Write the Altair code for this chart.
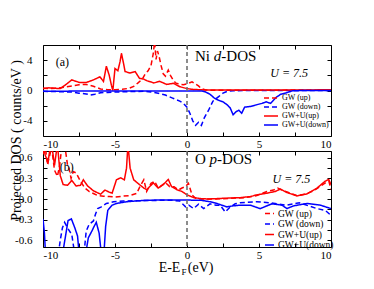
import altair as alt
import pandas as pd

SERIES = ["GW (up)", "GW (down)", "GW+U(up)", "GW+U(down)"]
COLORS = ["#ff0000", "#0000ff", "#ff0000", "#0000ff"]
DASHES = [[5, 3], [5, 3], [1, 0], [1, 0]]

# ---------------- Panel (a): Ni d-DOS ----------------
ni_gw_up_x = [-10, -9.5, -9, -8.5, -8, -7.5, -7, -6.5, -6, -5.5, -5, -4.5, -4, -3.7, -3.4, -3.1,
              -2.9, -2.7, -2.5, -2.35, -2.25, -2.15, -2.05, -1.95, -1.8, -1.65, -1.5, -1.3, -1.15,
              -1.0, -0.8, -0.5, -0.25, 0.1, 0.35, 0.6, 0.8, 1.0, 1.3, 1.6, 2, 3, 4, 5, 6, 7, 8, 9, 10]
ni_gw_up_y = [0.3, 0.25, 0.3, 0.45, 0.6, 0.75, 0.8, 0.55, 0.2, 0.1, 0.1, 0.15, 0.3, 0.55, 1.0, 1.5,
              2.2, 2.6, 3.3, 4.8, 6.4, 4.1, 5.2, 4.6, 3.3, 2.2, 1.9, 2.7, 2.0,
              1.5, 1.0, 0.8, 0.75, 0.95, 1.15, 0.85, 0.6, 0.25, 0.08, 0.03, 0.02, 0.02, 0.02, 0.02,
              0.03, 0.05, 0.05, 0.08, 0.1]

ni_gw_dn_x = [-10, -9, -8, -7.5, -7, -6.7, -6.4, -6, -5.5, -5, -4, -3, -2.5, -2, -1.5, -1, -0.5,
              -0.25, 0, 0.2, 0.4, 0.6, 0.8, 1.0, 1.2, 1.5, 1.8, 2.2, 2.5, 2.8, 3.2, 4, 5, 6, 7, 8, 9, 10]
ni_gw_dn_y = [-0.1, -0.15, -0.2, -0.35, -0.45, -0.6, -0.5, -0.3, -0.25, -0.2, -0.15, -0.1, -0.2,
              -0.35, -0.6, -1.0, -1.4, -1.7, -2.2, -3.0, -4.0, -4.6, -4.2, -4.6, -3.6, -2.6, -1.4,
              -0.8, -0.35, -0.1, -0.03, 0, 0, 0, 0, 0, 0, 0]

ni_gwu_up_x = [-10, -9.6, -9.2, -8.8, -8.4, -8.0, -7.7, -7.45, -7.0, -6.5, -6.05, -5.8, -5.6, -5.4,
               -5.25, -5.15, -5.0, -4.8, -4.65, -4.55, -4.4, -4.3, -3.95, -3.6, -3.3, -3.0, -2.8,
               -2.3, -1.9, -1.4, -0.95, -0.5, 0, 0.4, 0.9, 1.5, 2, 3, 4, 5, 6, 7, 8, 9, 10]
ni_gwu_up_y = [0.25, 0.35, 0.3, 0.25, 0.8, 1.4, 1.2, 1.05, 1.05, 1.4, 1.8, 1.2, 3.2, 2.0,
               0.7, 0.0, 2.9, 2.6, 3.8, 4.9, 3.5, 2.5, 2.3, 2.5, 1.6, 1.5, 1.3,
               1.0, 1.2, 0.8, 0.95, 0.5, 0.25, 0.15, 0.1, 0.05, 0.05, 0.05, 0.05, 0.05, 0.05,
               0.05, 0.06, 0.08, 0.1]

ni_gwu_dn_x = [-10, -8, -6, -4, -2, 0, 1.0, 1.3, 1.6, 1.9, 2.2, 2.5, 2.8, 3.0, 3.2, 3.4, 3.6, 3.8,
               4.0, 4.4, 4.8, 5.2, 5.5, 5.8, 6.0, 6.2, 6.5, 6.9, 7.3, 8, 9, 10]
ni_gwu_dn_y = [-0.1, -0.08, -0.05, -0.05, -0.05, -0.05, -0.05, -0.2, -0.5, -1.0, -1.3, -1.5, -1.9,
               -2.3, -3.2, -2.8, -2.6, -3.0, -2.2, -2.1, -1.9, -1.7, -1.5, -1.7, -1.3, -0.9, -0.5,
               -0.3, -0.05, 0, 0, 0]

# ---------------- Panel (b): O p-DOS ----------------
o_gw_up_x = [-10, -9.85, -9.7, -9.55, -9.4, -9.2, -9.0, -8.85, -8.7, -8.5, -8.3, -8.2, -8.05, -7.9,
             -7.7, -7.4, -7.1, -6.8, -6.5, -6.2, -5.8, -5.4, -5, -4.5, -4, -3.5, -3.27, -3.0, -2.8,
             -2.5, -2.25, -2.0, -1.75, -1.5, -1.2, -0.9, -0.6, -0.35, -0.1, 0.1, 0.35, 0.6, 1.0,
             1.5, 2, 3, 4, 4.85, 5.55, 6.0, 6.3, 6.6, 7.0, 7.6, 8.2, 8.8, 9.3, 9.7, 9.85, 10]
o_gw_up_y = [0.65, 0.8, 0.5, 0.62, 0.75, 0.42, 0.33, 0.48, 0.75, 0.8, 0.5, 0.45, 0.3, 0.4,
             0.38, 0.26, 0.16, 0.11, 0.08, 0.05, 0.04, 0.035, 0.03, 0.04, 0.05, 0.08, 0.18, 0.28, 0.11,
             0.23, 0.26, 0.16, 0.2, 0.24, 0.18, 0.18, 0.13, 0.16, 0.18, 0.23, 0.06, 0.01, 0.0,
             0.0, 0.0, 0.01, 0.02, 0.05, 0.11, 0.13, 0.16, 0.13, 0.1, 0.05, 0.07, 0.12, 0.19, 0.25,
             0.26, 0.14]

o_gw_dn_x = [-10, -9.5, -9.0, -8.8, -8.65, -8.5, -8.3, -8.0, -7.8, -7.5, -7.2, -7.0, -6.8, -6.5,
             -6.35, -6.2, -5.95, -5.6, -5.1, -4.4, -3.3, -2, -1, -0.5, -0.1, 0.12, 0.46, 0.8, 1.16,
             1.6, 2.0, 2.3, 2.66, 3.0, 3.35, 3.69, 4.85, 5.8, 6.9, 7.8, 9.03, 9.6, 10]
o_gw_dn_y = [-1.2, -1.0, -0.9, -0.6, -0.42, -0.34, -0.42, -0.52, -0.8, -1.0, -0.9, -0.47, -0.37,
             -0.32, -0.22, -0.14, -0.115, -0.065, -0.04, -0.03, -0.025, -0.02, -0.02, -0.03, -0.115,
             -0.09, -0.14, -0.075, -0.14, -0.07, -0.09, -0.09, -0.19, -0.115, -0.07, -0.055, -0.04,
             -0.055, -0.09, -0.055, -0.14, -0.165, -0.24]

o_gwu_up_x = [-10, -9.85, -9.65, -9.5, -9.4, -9.2, -9.0, -8.8, -8.6, -8.3, -8.0, -7.7, -7.4, -7.2,
              -6.9, -6.5, -6.0, -5.7, -5.4, -5.2, -4.9, -4.6, -4.35, -4.2, -4.1, -3.95, -3.7, -3.3,
              -3.0, -2.8, -2.34, -2.0, -1.65, -1.3, -1.07, -0.7, -0.35, 0, 0.46, 1.0, 1.5, 2.5, 3.7,
              4.4, 4.85, 5.55, 6.13, 6.48, 6.94, 7.64, 8.34, 9.03, 9.6, 9.84, 10]
o_gwu_up_y = [0.8, 0.64, 0.54, 0.75, 0.8, 0.49, 0.8, 0.34, 0.21, 0.2, 0.27, 0.19, 0.2, 0.28,
              0.19, 0.12, 0.07, 0.13, 0.1, 0.085, 0.28, 0.31, 0.28, 0.45, 0.8, 0.45, 0.28, 0.21,
              0.16, 0.135, 0.235, 0.16, 0.21, 0.285, 0.18, 0.135, 0.11, 0.06, 0.02, 0.005, 0.0, 0.01,
              0.02, 0.035, 0.06, 0.085, 0.11, 0.145, 0.095, 0.045, 0.075, 0.16, 0.26, 0.285, 0.21]

o_gwu_dn_x = [-10, -9.9, -9.8, -9.0, -8.6, -8.26, -8.03, -7.8, -7.6, -7.45, -7.2, -7.0, -6.85,
              -6.6, -6.45, -6.3, -6.1, -5.95, -5.8, -5.65, -5.5, -5.2, -4.9, -4.2, -3, -2, -1, 0, 1,
              1.6, 2.07, 2.77, 3.2, 3.7, 4.39, 5.08, 5.43, 5.9, 6.6, 6.94, 7.4, 8.34, 9.26, 10]
o_gwu_dn_y = [-0.29, -0.5, -0.9, -1.0, -0.75, -0.315, -0.29, -0.415, -0.54, -0.9, -0.95, -0.75,
              -0.565, -0.465, -0.4, -0.34, -0.5, -0.8, -0.9, -0.4, -0.165, -0.09, -0.065, -0.04,
              -0.02, -0.015, -0.015, -0.015, -0.02, -0.04, -0.065, -0.115, -0.1, -0.09, -0.09,
              -0.14, -0.11, -0.07, -0.09, -0.14, -0.1, -0.065, -0.09, -0.14]

# annotations (text, x in eV, y in data units, font size)
ni_notes = [("(a)", -9.12, 3.8, 12), ("Ni", 0.557, 4.6, 15), ("-DOS", 2.384, 4.6, 15)]
ni_notes_it = [("d", 1.862, 4.6, 15), ("U = 7.5", 5.78, 2.28, 12)]
# x-axis title "E-E_F (eV)" is built from three pieces below the bottom panel
o_notes = [("(b)", -8.84, 0.46, 12), ("O", 0.557, 0.585, 15), ("-DOS", 2.09, 0.585, 15),
           ("E-E", -1.97, -1.01, 14), ("F", -0.38, -1.07, 9), ("(eV)", 0.06, -1.01, 14)]
o_notes_it = [("p", 1.57, 0.585, 15), ("U = 7.5", 5.94, 0.285, 12)]

X_TICKS = [-10, -7.5, -5, -2.5, 0, 2.5, 5, 7.5, 10]
NI_Y_TICKS = [-4, -2, 0, 2, 4]
O_Y_TICKS = [-0.6, -0.45, -0.3, -0.15, 0, 0.15, 0.3, 0.45, 0.6]

FONT = "Liberation Serif"


def lines_df(pairs):
    rows = []
    for name, (xs, ys) in zip(SERIES, pairs):
        for i, (x, y) in enumerate(zip(xs, ys)):
            rows.append(dict(E=x, DOS=y, series=name, idx=i))
    return pd.DataFrame(rows)


def notes_df(notes):
    return pd.DataFrame([dict(t=t, x=x, y=y, s=s) for t, x, y, s in notes])


def panel(df, ydom, yticks, ylabel_expr, left_extra, legend, notes, notes_it, height):
    xs = alt.Scale(domain=[-10, 10], nice=False, zero=False)
    ys = alt.Scale(domain=ydom, nice=False, zero=False)
    common = dict(tickSize=4, offset=-4, domain=False, grid=False, tickColor="black")
    bottom_axis = alt.Axis(values=X_TICKS, labelExpr="datum.value % 5 == 0 ? '' + datum.value : ''",
                           labelPadding=2, labelFontSize=11, orient="bottom", title=None, **common)
    left_axis = alt.Axis(values=yticks, labelExpr=ylabel_expr, labelPadding=11, labelFontSize=11,
                         orient="left", **common, **left_extra)
    top_axis = alt.Axis(values=X_TICKS, labels=False, title=None, orient="top", **common)
    right_axis = alt.Axis(values=yticks, labels=False, title=None, orient="right", **common)

    lines = alt.Chart(df).mark_line(clip=True, strokeWidth=1.5).encode(
        x=alt.X("E:Q", scale=xs, axis=bottom_axis),
        y=alt.Y("DOS:Q", scale=ys, axis=left_axis),
        color=alt.Color("series:N", scale=alt.Scale(domain=SERIES, range=COLORS), sort=SERIES,
                        legend=legend),
        strokeDash=alt.StrokeDash("series:N", scale=alt.Scale(domain=SERIES, range=DASHES),
                                  sort=SERIES, legend=legend),
        order="idx:Q",
    )
    rule = alt.Chart(pd.DataFrame({"E": [0]})).mark_rule(
        color="#707070", strokeDash=[4, 3], strokeWidth=1.6
    ).encode(x=alt.X("E:Q", scale=xs, axis=None))
    txt = alt.Chart(notes_df(notes)).mark_text(align="left", baseline="middle", font=FONT,
                                               color="black").encode(
        x=alt.X("x:Q", scale=xs, axis=top_axis),
        y=alt.Y("y:Q", scale=ys, axis=right_axis),
        text="t:N",
        size=alt.Size("s:Q", scale=None),
    )
    txt_it = alt.Chart(notes_df(notes_it)).mark_text(align="left", baseline="middle", font=FONT,
                                                     fontStyle="italic", color="black").encode(
        x=alt.X("x:Q", scale=xs, axis=None),
        y=alt.Y("y:Q", scale=ys, axis=None),
        text="t:N",
        size=alt.Size("s:Q", scale=None),
    )
    return alt.layer(lines, rule, txt, txt_it).resolve_axis(
        x="independent", y="independent"
    ).properties(width=288, height=height)


top_legend = alt.Legend(title=None, orient="none", legendX=226, legendY=48,
                        symbolType="M-2.5,0H1", symbolSize=64, symbolStrokeWidth=1.5,
                        labelFont=FONT, labelFontSize=8, rowPadding=0, labelOffset=3, padding=0,
                        labelColor="black")
bot_legend = alt.Legend(title=None, orient="none", legendX=221, legendY=57,
                        symbolType="stroke", symbolSize=81, symbolStrokeWidth=1.5,
                        labelFont=FONT, labelFontSize=9.5, rowPadding=0.5, labelOffset=3,
                        padding=0, labelColor="black")

top = panel(
    lines_df([(ni_gw_up_x, ni_gw_up_y), (ni_gw_dn_x, ni_gw_dn_y),
              (ni_gwu_up_x, ni_gwu_up_y), (ni_gwu_dn_x, ni_gwu_dn_y)]),
    [-6, 6], NI_Y_TICKS, "datum.value % 4 == 0 ? '' + datum.value : ''",
    dict(title="Projected  DOS ( counts/eV )", titleFontSize=14, titleFontWeight="normal",
         titleX=-31, titleY=95, titleAngle=270, titleAlign="center", titleBaseline="middle"),
    top_legend, ni_notes, ni_notes_it, 91,
)

bottom = panel(
    lines_df([(o_gw_up_x, o_gw_up_y), (o_gw_dn_x, o_gw_dn_y),
              (o_gwu_up_x, o_gwu_up_y), (o_gwu_dn_x, o_gwu_dn_y)]),
    [-0.7, 0.7], O_Y_TICKS,
    "abs(round(datum.value / 0.15)) % 2 == 0 ? (datum.value < 0 ? '-' : '') + format(abs(datum.value), '.1f') : ''",
    dict(title=None),
    bot_legend, o_notes, o_notes_it, 96,
)

chart = alt.vconcat(top, bottom, spacing=15, bounds="flush").resolve_scale(
    y="independent"
).resolve_legend(color="independent", strokeDash="independent").properties(
    padding={"left": 0, "top": 35, "right": 5, "bottom": 5}
).configure_view(stroke="black", strokeWidth=1).configure_axis(
    labelFont=FONT, titleFont=FONT, labelColor="black", titleColor="black"
).configure_legend(labelFont=FONT)

chart.save("out.html", embed_options={"renderer": "svg", "actions": False})
